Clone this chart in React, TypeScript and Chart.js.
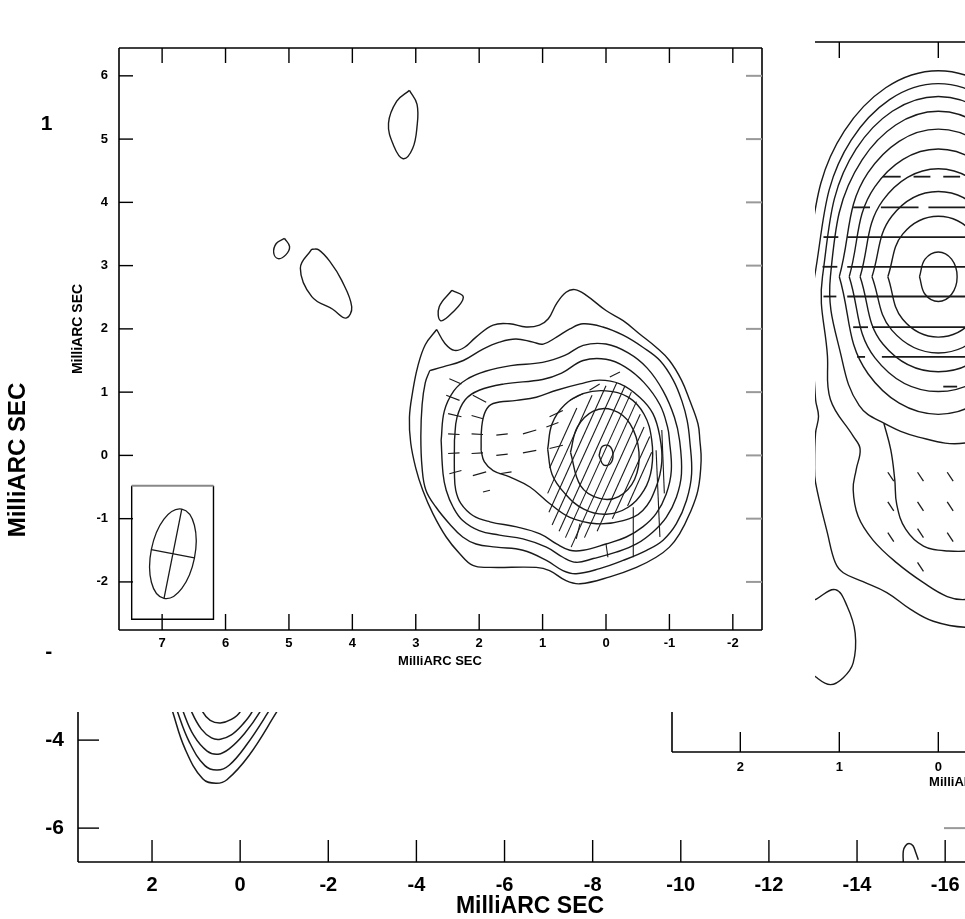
import React, { useEffect, useRef } from "react";
import { Chart, registerables } from "chart.js";
Chart.register(...registerables);

type P = [number, number];
type Seg = [number, number, number, number];

const FONT = "'Liberation Sans Narrow', 'Arial Narrow', 'Liberation Sans', Arial, sans-serif";
const AXIS_TITLE = "MilliARC SEC";
const INK = "#1a1a1a";

// ---------------- Big background map ----------------
const bigXTicks = [2, 0, -2, -4, -6, -8, -10, -12, -14, -16];
const bigYTicks = [10, 8, 6, 4, 2, 0, -2, -4, -6];
const bigXRange: P = [-16.45, 3.68];
const bigYRange: P = [-6.77, 12.82];
const bigU1: P[] = [[0.98, -3.0], [0.85, -3.36], [0.68, -3.55], [0.45, -3.61], [0.2, -3.53], [0.0, -3.36], [-0.12, -3.0]];
const bigU2: P[] = [[1.22, -3.0], [1.1, -3.36], [0.88, -3.75], [0.65, -3.95], [0.45, -3.98], [0.2, -3.88], [-0.05, -3.65], [-0.27, -3.36], [-0.4, -3.0]];
const bigU3: P[] = [[1.4, -3.0], [1.29, -3.36], [1.05, -3.9], [0.75, -4.25], [0.5, -4.32], [0.25, -4.2], [-0.1, -3.85], [-0.45, -3.36], [-0.62, -3.0]];
const bigU4: P[] = [[1.52, -3.0], [1.42, -3.36], [1.15, -4.05], [0.8, -4.58], [0.52, -4.68], [0.25, -4.57], [-0.15, -4.1], [-0.64, -3.36], [-0.85, -3.0]];
const bigU5: P[] = [[1.63, -3.0], [1.53, -3.36], [1.25, -4.2], [0.85, -4.88], [0.55, -4.98], [0.3, -4.9], [-0.2, -4.35], [-0.83, -3.36], [-1.05, -3.0]];
const bigArc: P[] = [[-15.05, -6.8], [-15.05, -6.52], [-15.1, -6.4], [-15.18, -6.35], [-15.27, -6.4], [-15.33, -6.55], [-15.39, -6.72]];
const bigContours = [bigU1, bigU2, bigU3, bigU4, bigU5, bigArc];

// ---------------- Right inset ----------------
const rXTicks = [2, 1, 0, -1, -2, -3];
const rXRange: P = [-3.33, 2.69];
const rYRange: P = [-4.8, 2.37];
const rR1: P[] = [[0.19, 0], [0.134, 0.177], [0, 0.25], [-0.134, 0.177], [-0.19, 0], [-0.134, -0.177], [0, -0.25], [0.134, -0.177], [0.19, 0]];
const rR2: P[] = [[0.51, 0], [0.36, 0.43], [0, 0.61], [-0.36, 0.43], [-0.51, 0], [-0.36, -0.43], [0, -0.61], [0.36, -0.43], [0.51, 0]];
const rR3: P[] = [[0.67, 0], [0.47, 0.61], [0, 0.86], [-0.47, 0.61], [-0.67, 0], [-0.47, -0.54], [0, -0.77], [0.47, -0.54], [0.67, 0]];
const rR4: P[] = [[0.79, 0], [0.56, 0.77], [0, 1.09], [-0.56, 0.77], [-0.79, 0], [-0.56, -0.68], [0, -0.96], [0.56, -0.68], [0.79, 0]];
const rR5: P[] = [[0.9, 0], [0.64, 0.91], [0, 1.29], [-0.64, 0.91], [-0.9, 0], [-0.64, -0.82], [0, -1.16], [0.64, -0.82], [0.9, 0]];
const rR6: P[] = [[1.0, 0], [0.71, 1.05], [0, 1.49], [-0.71, 1.05], [-1.0, 0], [-0.71, -0.98], [0, -1.39], [0.71, -0.98], [1.0, 0]];
const rR7: P[] = [[-1.09, 0], [-0.77, 1.18], [0, 1.67], [0.77, 1.18], [1.09, 0], [0.97, -0.85], [0.8, -1.3], [0.55, -1.48], [0.2, -1.62], [-0.27, -1.68], [-0.7, -1.5], [-1.09, 0]];
const rR8: P[] = [[-1.17, 0], [-0.83, 1.29], [0, 1.82], [0.83, 1.29], [1.17, 0], [1.12, -0.8], [1.09, -1.24], [0.86, -1.61], [0.79, -1.74], [0.83, -1.95], [0.86, -2.15], [0.81, -2.42], [0.66, -2.66], [0.42, -2.89], [0.15, -3.09], [-0.09, -3.23], [-0.27, -3.26], [-0.6, -3.2]];
const rLobe: P[] = [[0.55, -1.48], [0.48, -1.75], [0.44, -2.05], [0.42, -2.3], [0.33, -2.55], [0.15, -2.72], [-0.1, -2.77], [-0.4, -2.76], [-0.6, -2.7]];
const rR9: P[] = [[-1.25, 0], [-0.88, 1.38], [0, 1.95], [0.88, 1.38], [1.25, 0], [1.26, -0.8], [1.24, -1.24], [1.21, -1.41], [1.24, -1.58], [1.25, -1.9], [1.24, -2.08], [1.12, -2.59], [1.04, -2.89], [0.96, -2.99], [0.76, -3.08], [0.52, -3.19], [0.28, -3.36], [0.05, -3.48], [-0.27, -3.54], [-0.6, -3.5]];
const rR10: P[] = [[-1.35, 0], [-0.95, 1.47], [0, 2.08], [0.95, 1.47], [1.35, 0], [1.4, -1.0]];
const rBlob: P[] = [[1.24, -3.26], [1.04, -3.16], [0.92, -3.33], [0.84, -3.6], [0.86, -3.9], [0.96, -4.05], [1.09, -4.12], [1.24, -4.04], [1.45, -3.85], [1.5, -3.5], [1.4, -3.28], [1.24, -3.26]];
const rContours = [rR1, rR2, rR3, rR4, rR5, rR6, rR7, rR8, rLobe, rR9, rR10, rBlob];
// horizontal polarisation vectors [x1, y1, x2, y2]
const rVectors: Seg[] = [
  [0.56, 1.01, 0.38, 1.01], [0.25, 1.01, 0.08, 1.01], [-0.05, 1.01, -0.22, 1.01], [-0.35, 1.01, -0.5, 1.01],
  [0.86, 0.7, 0.69, 0.7], [0.58, 0.7, 0.2, 0.7], [0.1, 0.7, -0.5, 0.7],
  [1.16, 0.4, 1.01, 0.4], [0.92, 0.4, -0.6, 0.4],
  [1.17, 0.1, 1.02, 0.1], [0.92, 0.1, -0.6, 0.1],
  [1.16, -0.2, 1.03, -0.2], [0.92, -0.2, -0.6, -0.2],
  [0.86, -0.51, 0.71, -0.51], [0.67, -0.51, -0.5, -0.51],
  [0.82, -0.81, 0.74, -0.81], [0.57, -0.81, -0.5, -0.81],
  [-0.05, -1.11, -0.19, -1.11],
];
const rDashes: Seg[] = [
  [0.51, -1.975, 0.45, -2.065], [0.21, -1.975, 0.15, -2.065], [-0.09, -1.975, -0.15, -2.065],
  [0.51, -2.275, 0.45, -2.365], [0.21, -2.275, 0.15, -2.365], [-0.09, -2.275, -0.15, -2.365],
  [0.51, -2.585, 0.45, -2.675], [0.21, -2.545, 0.15, -2.635], [-0.09, -2.585, -0.15, -2.675],
  [0.21, -2.885, 0.15, -2.975],
];

// ---------------- Top-left inset ----------------
const iXTicks = [7, 6, 5, 4, 3, 2, 1, 0, -1, -2];
const iYTicks = [6, 5, 4, 3, 2, 1, 0, -1, -2];
const iXRange: P = [-2.46, 7.68];
const iYRange: P = [-2.76, 6.44];
const blobA: P[] = [[3.1, 5.77], [2.98, 5.55], [2.98, 5.2], [3.05, 4.85], [3.2, 4.69], [3.35, 4.9], [3.43, 5.25], [3.3, 5.6], [3.1, 5.77]];
const blobB: P[] = [[5.07, 3.43], [4.99, 3.3], [5.05, 3.17], [5.17, 3.11], [5.24, 3.2], [5.2, 3.35], [5.07, 3.43]];
const blobC: P[] = [[4.64, 3.26], [4.53, 3.25], [4.35, 3.06], [4.17, 2.77], [4.01, 2.35], [4.1, 2.17], [4.31, 2.31], [4.64, 2.51], [4.82, 2.96], [4.64, 3.26]];
const blobD: P[] = [[2.43, 2.61], [2.25, 2.5], [2.43, 2.25], [2.61, 2.13], [2.63, 2.35], [2.43, 2.61]];
const c1: P[] = [[2.67, 1.99], [2.54, 1.77], [2.39, 1.66], [2.23, 1.71], [2.05, 1.87], [1.78, 2.06], [1.52, 2.08], [1.26, 2.03], [1.05, 2.06], [0.91, 2.16], [0.78, 2.4], [0.63, 2.58], [0.49, 2.62], [0.31, 2.53], [0.0, 2.29], [-0.27, 2.13], [-0.53, 1.92], [-0.79, 1.71], [-1.0, 1.5], [-1.19, 1.19], [-1.32, 0.87], [-1.45, 0.5], [-1.48, 0.24], [-1.5, -0.08], [-1.45, -0.55], [-1.32, -0.92], [-1.16, -1.24], [-1.0, -1.45], [-0.79, -1.61], [-0.48, -1.77], [-0.06, -1.92], [0.41, -2.03], [0.63, -1.98], [0.89, -1.82], [1.1, -1.77], [1.83, -1.77], [2.1, -1.74], [2.31, -1.55], [2.52, -1.29], [2.73, -0.92], [2.89, -0.55], [3.0, -0.2], [3.08, 0.2], [3.1, 0.6], [3.05, 1.0], [2.97, 1.4], [2.85, 1.75], [2.67, 1.99]];
const c2: P[] = [[2.78, 1.34], [2.57, 1.4], [2.25, 1.5], [1.94, 1.68], [1.68, 1.79], [1.42, 1.84], [1.15, 1.79], [0.99, 1.76], [0.78, 1.87], [0.57, 2.0], [0.36, 2.08], [0.05, 2.03], [-0.27, 1.9], [-0.58, 1.71], [-0.85, 1.5], [-1.06, 1.19], [-1.2, 0.85], [-1.28, 0.55], [-1.32, 0.24], [-1.35, -0.29], [-1.27, -0.71], [-1.11, -1.08], [-0.9, -1.34], [-0.64, -1.5], [-0.27, -1.66], [0.1, -1.79], [0.47, -1.87], [0.68, -1.82], [0.94, -1.66], [1.31, -1.5], [1.73, -1.45], [2.05, -1.4], [2.26, -1.29], [2.47, -1.08], [2.68, -0.82], [2.84, -0.55], [2.9, -0.2], [2.92, 0.3], [2.9, 0.8], [2.85, 1.15], [2.78, 1.34]];
const c3: P[] = [[2.6, 0.24], [2.55, 0.7], [2.4, 1.02], [2.2, 1.2], [1.9, 1.33], [1.5, 1.42], [1.0, 1.47], [0.65, 1.58], [0.36, 1.74], [0.0, 1.76], [-0.35, 1.62], [-0.65, 1.38], [-0.9, 1.02], [-1.08, 0.6], [-1.16, 0.24], [-1.19, -0.29], [-1.11, -0.66], [-0.95, -0.98], [-0.74, -1.21], [-0.48, -1.4], [-0.16, -1.53], [0.2, -1.63], [0.47, -1.69], [0.68, -1.61], [0.94, -1.45], [1.31, -1.32], [1.68, -1.26], [2.0, -1.19], [2.26, -1.03], [2.41, -0.82], [2.52, -0.55], [2.57, -0.29], [2.6, 0.24]];
const c4: P[] = [[2.39, 0.24], [2.35, 0.6], [2.22, 0.88], [2.0, 1.03], [1.6, 1.13], [1.0, 1.2], [0.7, 1.3], [0.36, 1.5], [0.0, 1.52], [-0.3, 1.4], [-0.6, 1.15], [-0.85, 0.8], [-0.97, 0.45], [-1.0, 0.24], [-1.03, -0.24], [-0.95, -0.61], [-0.79, -0.92], [-0.58, -1.13], [-0.32, -1.29], [0.0, -1.4], [0.36, -1.5], [0.57, -1.5], [0.78, -1.4], [1.04, -1.24], [1.41, -1.13], [1.83, -1.05], [2.1, -0.95], [2.29, -0.76], [2.37, -0.55], [2.39, -0.29], [2.39, 0.24]];
const c5: P[] = [[1.97, 0.08], [1.96, 0.45], [1.9, 0.7], [1.78, 0.82], [1.41, 0.87], [1.1, 0.92], [0.78, 1.03], [0.41, 1.13], [0.1, 1.19], [-0.22, 1.13], [-0.53, 0.92], [-0.74, 0.66], [-0.85, 0.29], [-0.88, -0.1], [-0.79, -0.5], [-0.58, -0.87], [-0.27, -1.03], [0.15, -1.08], [0.57, -0.98], [0.89, -0.76], [1.2, -0.5], [1.52, -0.34], [1.78, -0.24], [1.92, -0.1], [1.97, 0.08]];
const c6: P[] = [[0.92, 0.1], [0.85, 0.5], [0.65, 0.8], [0.35, 0.98], [0.0, 1.02], [-0.35, 0.92], [-0.6, 0.65], [-0.72, 0.25], [-0.72, -0.2], [-0.6, -0.55], [-0.35, -0.82], [0.0, -0.93], [0.35, -0.85], [0.65, -0.6], [0.85, -0.3], [0.92, 0.1]];
const c7: P[] = [[0.56, 0.05], [0.45, 0.45], [0.2, 0.7], [-0.1, 0.72], [-0.38, 0.5], [-0.52, 0.05], [-0.45, -0.38], [-0.2, -0.65], [0.1, -0.68], [0.4, -0.48], [0.56, 0.05]];
const c8: P[] = [[0.11, 0.0], [0.06, 0.14], [-0.05, 0.15], [-0.11, 0.02], [-0.07, -0.13], [0.04, -0.15], [0.11, 0.0]];
const iContours = [blobA, blobB, blobC, blobD, c1, c2, c3, c4, c5, c6, c7, c8];
const iVectors: Seg[] = [
  // left (jet) region
  [2.47, 1.21, 2.28, 1.13], [2.52, 0.95, 2.31, 0.87], [2.1, 0.95, 1.89, 0.84],
  [2.49, 0.66, 2.28, 0.61], [2.12, 0.63, 1.94, 0.58],
  [2.49, 0.34, 2.31, 0.33], [2.12, 0.34, 1.94, 0.33],
  [2.49, 0.03, 2.31, 0.04], [2.12, 0.03, 1.94, 0.04],
  [2.47, -0.29, 2.28, -0.24], [2.1, -0.32, 1.89, -0.26], [1.94, -0.58, 1.83, -0.55],
  // dashed rows towards core
  [1.73, 0.32, 1.55, 0.34], [1.31, 0.34, 1.1, 0.4], [0.94, 0.45, 0.75, 0.52],
  [1.73, 0.0, 1.55, 0.02], [1.31, 0.04, 1.1, 0.08], [0.89, 0.11, 0.68, 0.16],
  [1.68, -0.29, 1.49, -0.26],
  [0.89, 0.61, 0.68, 0.71], [0.57, 0.87, 0.36, 0.98], [0.26, 1.03, 0.1, 1.13], [-0.06, 1.24, -0.22, 1.32],
  // core hatching
  [0.89, -0.2, 0.46, 0.75], [0.92, -0.6, 0.22, 0.95], [0.9, -0.9, 0.0, 1.1], [0.85, -1.1, -0.17, 1.15],
  [0.74, -1.2, -0.3, 1.1], [0.64, -1.3, -0.4, 1.0], [0.55, -1.45, -0.48, 0.85], [0.34, -1.3, -0.54, 0.65],
  [0.14, -1.2, -0.6, 0.45], [-0.1, -1.0, -0.69, 0.3], [-0.34, -0.8, -0.72, 0.05],
  // near-vertical vectors on the west edge
  [-0.79, 0.08, -0.85, -1.29], [-0.88, 0.4, -0.92, -0.6], [-0.43, -0.82, -0.43, -1.61], [0.0, -1.4, -0.03, -1.61], [0.41, -1.08, 0.47, -1.32],
];
// restoring beam: box corners, centre, end of major axis, end of minor axis
const beamBox: Seg = [7.48, -0.48, 6.19, -2.59];
const beamCentre: P = [6.83, -1.555];
const beamMajorEnd: P = [6.69, -0.85];
const beamMinorEnd: P = [7.17, -1.49];

// ---------------- helpers ----------------
const lineDs = (pts: P[], width = 1.4, tension = 0.4) => ({
  data: pts.map(([x, y]) => ({ x, y })),
  showLine: true,
  borderColor: INK,
  borderWidth: width,
  pointRadius: 0,
  tension,
  fill: false,
});
const segDs = (s: Seg, width = 1.2) => lineDs([[s[0], s[1]], [s[2], s[3]]], width, 0);

type Side = "top" | "bottom" | "left" | "right";
interface SideSpec { side: Side; ticks: number[]; len: number; color: string; line: boolean; }
interface TitleSpec { text: string; x: number; y: number; rotate?: boolean; font: string; }

function framePlugin(id: string, sides: SideSpec[], titles: TitleSpec[], extra?: (c: any) => void) {
  return {
    id,
    beforeDraw(chart: any) {
      const ctx = chart.ctx;
      ctx.save();
      ctx.fillStyle = "#ffffff";
      ctx.fillRect(0, 0, chart.width, chart.height);
      ctx.restore();
    },
    afterDraw(chart: any) {
      const { ctx, chartArea: a, scales } = chart;
      const xs = scales.x, ys = scales.y;
      ctx.save();
      ctx.lineCap = "butt";
      for (const s of sides) {
        if (s.line) {
          ctx.strokeStyle = "#000";
          ctx.lineWidth = 1.6;
          ctx.beginPath();
          if (s.side === "bottom") { ctx.moveTo(a.left, a.bottom); ctx.lineTo(a.right, a.bottom); }
          if (s.side === "top") { ctx.moveTo(a.left, a.top); ctx.lineTo(a.right, a.top); }
          if (s.side === "left") { ctx.moveTo(a.left, a.top); ctx.lineTo(a.left, a.bottom); }
          if (s.side === "right") { ctx.moveTo(a.right, a.top); ctx.lineTo(a.right, a.bottom); }
          ctx.stroke();
        }
        ctx.strokeStyle = s.color;
        ctx.lineWidth = s.color === "#000" ? 1.4 : 2;
        for (const t of s.ticks) {
          ctx.beginPath();
          if (s.side === "bottom" || s.side === "top") {
            const px = xs.getPixelForValue(t);
            const y0 = s.side === "bottom" ? a.bottom : a.top;
            const dir = s.side === "bottom" ? -1 : 1;
            ctx.moveTo(px, y0); ctx.lineTo(px, y0 + dir * s.len);
          } else {
            const py = ys.getPixelForValue(t);
            const x0 = s.side === "left" ? a.left : a.right;
            const dir = s.side === "left" ? 1 : -1;
            ctx.moveTo(x0, py); ctx.lineTo(x0 + dir * s.len, py);
          }
          ctx.stroke();
        }
      }
      ctx.fillStyle = "#000";
      for (const t of titles) {
        ctx.save();
        ctx.font = t.font;
        ctx.textAlign = "center";
        ctx.textBaseline = "middle";
        ctx.translate(t.x, t.y);
        if (t.rotate) ctx.rotate(-Math.PI / 2);
        ctx.fillText(t.text, 0, 0);
        ctx.restore();
      }
      if (extra) extra(chart);
      ctx.restore();
    },
  };
}

function axis(range: P, ticks: number[], size: number, padding: number, fontSize: number, reverse: boolean, display = true, isX = true) {
  return {
    type: "linear",
    display,
    min: range[0],
    max: range[1],
    reverse,
    afterBuildTicks: (s: any) => { s.ticks = ticks.map((v) => ({ value: v })); },
    afterFit: (s: any) => {
      if (isX) s.height = size; else s.width = size;
      s.paddingTop = 0; s.paddingBottom = 0; s.paddingLeft = 0; s.paddingRight = 0;
    },
    grid: { display: false, drawTicks: false },
    border: { display: false },
    ticks: {
      padding,
      color: "#000",
      autoSkip: false,
      maxRotation: 0,
      font: { family: FONT, size: fontSize, weight: "bold" },
      callback: (v: any) => String(v),
    },
  };
}

function baseOptions(scales: any, padding: any) {
  return {
    responsive: false,
    animation: false,
    devicePixelRatio: 1,
    layout: { padding },
    plugins: { legend: { display: false }, tooltip: { enabled: false } },
    events: [],
    scales,
  };
}

function bigConfig(): any {
  return {
    type: "scatter",
    data: { datasets: bigContours.map((c) => lineDs(c, 1.5)) },
    options: baseOptions(
      {
        x: axis(bigXRange, bigXTicks, 57, 11, 20, true, true, true),
        y: axis(bigYRange, bigYTicks, 78, 14, 21, false, true, false),
      },
      { top: 0, right: 0, left: 0, bottom: 0 }
    ),
    plugins: [
      framePlugin(
        "bigFrame",
        [
          { side: "bottom", ticks: bigXTicks, len: 22, color: "#000", line: true },
          { side: "left", ticks: bigYTicks, len: 21, color: "#000", line: true },
          { side: "right", ticks: bigYTicks, len: 21, color: "#999", line: false },
        ],
        [
          { text: AXIS_TITLE, x: 530, y: 907, font: `bold 23px ${FONT}` },
          { text: AXIS_TITLE, x: 18, y: 460, rotate: true, font: `bold 24px ${FONT}` },
        ]
      ),
    ],
  };
}

function rightConfig(): any {
  const ds = [
    ...rContours.map((c) => lineDs(c, 1.4)),
    ...rVectors.map((s) => segDs(s, 1.8)),
    ...rDashes.map((s) => segDs(s, 1.3)),
  ];
  return {
    type: "scatter",
    data: { datasets: ds },
    options: baseOptions(
      {
        x: axis(rXRange, rXTicks, 46, 8, 13, true, true, true),
        y: axis(rYRange, [], 0, 0, 12, false, false, false),
      },
      { top: 42, left: 72, right: 32, bottom: 0 }
    ),
    plugins: [
      framePlugin(
        "rightFrame",
        [
          { side: "bottom", ticks: rXTicks, len: 20, color: "#000", line: true },
          { side: "top", ticks: rXTicks, len: 16, color: "#000", line: true },
          { side: "left", ticks: [], len: 0, color: "#000", line: true },
        ],
        [{ text: AXIS_TITLE, x: 371, y: 782, font: `bold 13px ${FONT}` }]
      ),
    ],
  };
}

function insetConfig(): any {
  const ds = [
    ...iContours.map((c) => lineDs(c, 1.4)),
    ...iVectors.map((s) => segDs(s, 1.1)),
  ];
  const drawBeam = (chart: any) => {
    const { ctx, scales } = chart;
    const xs = scales.x, ys = scales.y;
    const X = (v: number) => xs.getPixelForValue(v);
    const Y = (v: number) => ys.getPixelForValue(v);
    ctx.save();
    ctx.lineWidth = 1.4;
    ctx.strokeStyle = "#000";
    const bx0 = X(beamBox[0]), by0 = Y(beamBox[1]), bx1 = X(beamBox[2]), by1 = Y(beamBox[3]);
    ctx.beginPath();
    ctx.moveTo(bx0, by0); ctx.lineTo(bx0, by1); ctx.lineTo(bx1, by1); ctx.lineTo(bx1, by0);
    ctx.stroke();
    ctx.strokeStyle = "#888";
    ctx.lineWidth = 1.8;
    ctx.beginPath(); ctx.moveTo(bx0, by0); ctx.lineTo(bx1, by0); ctx.stroke();
    const cx = X(beamCentre[0]), cy = Y(beamCentre[1]);
    const mx = X(beamMajorEnd[0]) - cx, my = Y(beamMajorEnd[1]) - cy;
    const nx = X(beamMinorEnd[0]) - cx, ny = Y(beamMinorEnd[1]) - cy;
    const major = Math.hypot(mx, my), minor = Math.hypot(nx, ny);
    const rot = Math.atan2(my, mx);
    ctx.strokeStyle = INK;
    ctx.lineWidth = 1.3;
    ctx.beginPath();
    ctx.ellipse(cx, cy, major, minor, rot, 0, Math.PI * 2);
    ctx.stroke();
    ctx.beginPath();
    ctx.moveTo(cx + mx, cy + my); ctx.lineTo(cx - mx, cy - my);
    ctx.moveTo(cx + nx, cy + ny); ctx.lineTo(cx - nx, cy - ny);
    ctx.stroke();
    ctx.restore();
  };
  return {
    type: "scatter",
    data: { datasets: ds },
    options: baseOptions(
      {
        x: axis(iXRange, iXTicks, 82, 6, 13, true, true, true),
        y: axis(iYRange, iYTicks, 67, 11, 13, false, true, false),
      },
      { top: 48, right: 53, left: 0, bottom: 0 }
    ),
    plugins: [
      framePlugin(
        "insetFrame",
        [
          { side: "bottom", ticks: iXTicks, len: 16, color: "#000", line: true },
          { side: "top", ticks: iXTicks, len: 15, color: "#000", line: true },
          { side: "left", ticks: iYTicks, len: 14, color: "#000", line: true },
          { side: "right", ticks: iYTicks, len: 16, color: "#999", line: true },
        ],
        [
          { text: AXIS_TITLE, x: 388, y: 661, font: `bold 13px ${FONT}` },
          { text: AXIS_TITLE, x: 26, y: 329, rotate: true, font: `bold 14px ${FONT}` },
        ],
        drawBeam
      ),
    ],
  };
}

export default function App() {
  const bigRef = useRef<HTMLCanvasElement>(null);
  const rightRef = useRef<HTMLCanvasElement>(null);
  const insetRef = useRef<HTMLCanvasElement>(null);

  useEffect(() => {
    const charts: Chart[] = [];
    if (bigRef.current) charts.push(new Chart(bigRef.current, bigConfig()));
    if (rightRef.current) charts.push(new Chart(rightRef.current, rightConfig()));
    if (insetRef.current) charts.push(new Chart(insetRef.current, insetConfig()));
    return () => charts.forEach((c) => c.destroy());
  }, []);

  return (
    <div style={{ position: "absolute", left: 0, top: 0, width: 965, height: 919, overflow: "hidden", background: "#fff" }}>
      <canvas ref={bigRef} width={965} height={919} style={{ position: "absolute", left: 0, top: 0, width: 965, height: 919 }} />
      <canvas ref={rightRef} width={700} height={798} style={{ position: "absolute", left: 600, top: 0, width: 700, height: 798 }} />
      <canvas ref={insetRef} width={763} height={712} style={{ position: "absolute", left: 52, top: 0, width: 763, height: 712 }} />
    </div>
  );
}
